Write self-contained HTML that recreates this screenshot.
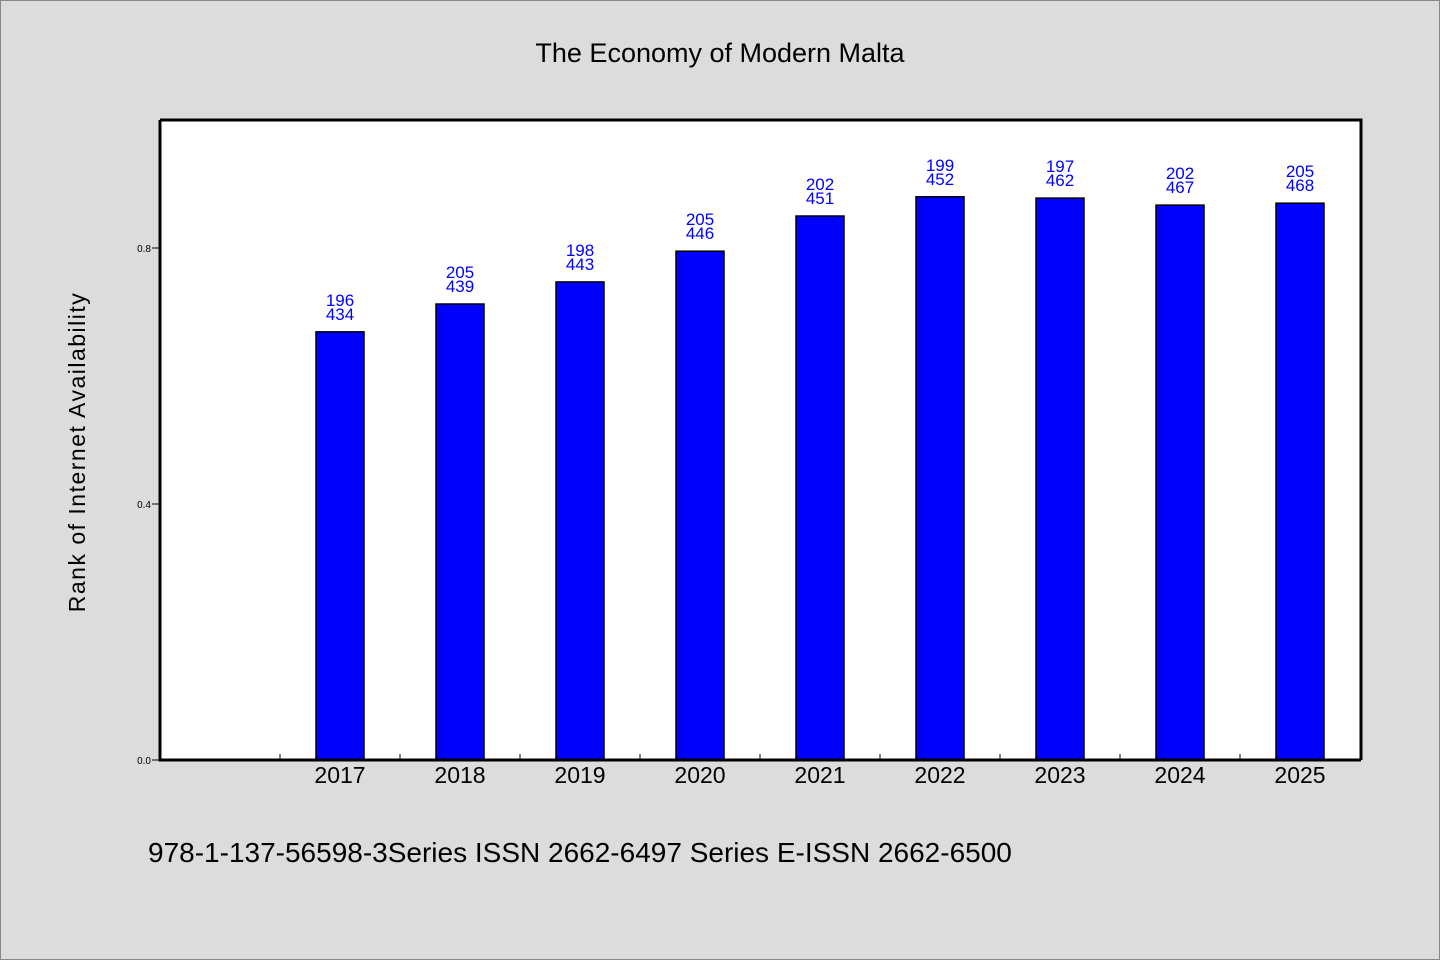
<!DOCTYPE html>
<html><head><meta charset="utf-8"><style>
html,body{margin:0;padding:0;background:#dcdcdc;}
svg{display:block;}
text{font-family:"WenQuanYi Zen Hei","Liberation Sans",sans-serif;}
</style></head><body>
<svg id="chart" width="1440" height="960" xmlns="http://www.w3.org/2000/svg">
<rect x="0.5" y="0.5" width="1439" height="959" fill="#dcdcdc" stroke="#888"/>
<text x="720" y="62" font-size="27" text-anchor="middle">The Economy of Modern Malta</text>
<rect x="160" y="120" width="1201" height="640" fill="#fff"/>
<g id="bars"></g>
<g id="ticks"></g>
<path d="M160,120 H1361 V760 M160,120 V760 H1361" fill="none" stroke="#000" stroke-width="3"/>
<text transform="translate(85,452) rotate(-90)" font-size="23" text-anchor="middle" letter-spacing="1.5">Rank of Internet Availability</text>
<text x="148" y="862" font-size="28">978-1-137-56598-3Series ISSN 2662-6497 Series E-ISSN 2662-6500</text>
</svg>
<script>
const categories=["2017","2018","2019","2020","2021","2022","2023","2024","2025"];
const values=[0.669,0.7125,0.747,0.795,0.85,0.88,0.878,0.867,0.870];
const labelTop=["196","205","198","205","202","199","197","202","205"];
const labelBottom=["434","439","443","446","451","452","462","467","468"];
const yTicks=[0.0,0.4,0.8];
const NS="http://www.w3.org/2000/svg";
const x0=160,slot=120,yBase=760,yScale=640;
const xc=i=>x0+slot*(i+1)+slot/2;
const y=v=>yBase-v*yScale;
const bars=document.getElementById('bars'),ticks=document.getElementById('ticks');
function mk(tag,attrs,parent){const e=document.createElementNS(NS,tag);for(const k in attrs)e.setAttribute(k,attrs[k]);parent.appendChild(e);return e;}
categories.forEach((c,i)=>{
  const r=mk('rect',{x:xc(i)-24,y:y(values[i]),width:48,height:yBase-y(values[i]),fill:'#0000ff',stroke:'#000','stroke-width':1.5},bars);
  
  
  const t1=mk('text',{x:xc(i),y:y(values[i])-26,'font-size':17,fill:'#0000ff','text-anchor':'middle'},bars);
  t1.textContent=labelTop[i];
  
  
  const t2=mk('text',{x:xc(i),y:y(values[i])-12,'font-size':17,fill:'#0000ff','text-anchor':'middle'},bars);
  t2.textContent=labelBottom[i];
  
  
  const xl=mk('text',{x:xc(i),y:783,'font-size':23,'text-anchor':'middle'},ticks);
  xl.textContent=c;
  
  
  const tk=mk('line',{x1:x0+slot*(i+1),x2:x0+slot*(i+1),y1:yBase,y2:yBase-6,stroke:'#000','stroke-width':1},ticks);
  
  
});
yTicks.forEach(v=>{
  const l=mk('line',{x1:152,x2:160,y1:y(v),y2:y(v),stroke:'#000','stroke-width':1},ticks);
  
  
  const t=mk('text',{x:151,y:y(v)+4,'font-size':10,'text-anchor':'end'},ticks);
  t.textContent=v.toFixed(1);
  
  
});
</script>
</body></html>
